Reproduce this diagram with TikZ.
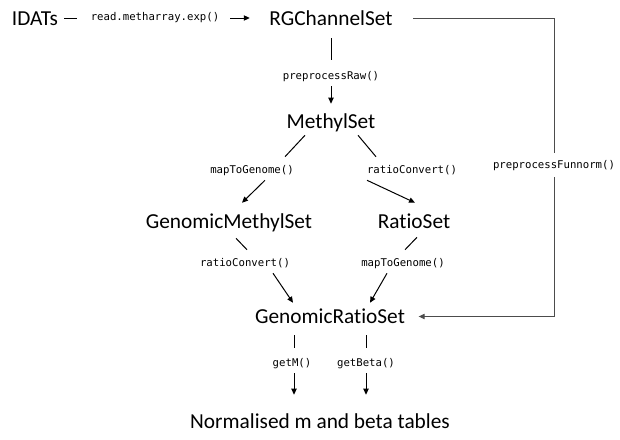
\documentclass[tikz,border=0pt]{standalone}
\usepackage{fontspec}
\setmainfont{Carlito}[Ligatures=NoCommon]
\newfontfamily\codefont{DejaVu Sans Mono}
\usepackage{tikz}
\usetikzlibrary{arrows.meta, positioning, calc}

\begin{document}
\begin{tikzpicture}[x=0.75pt, y=-0.75pt,
        cls/.style={inner sep=0pt, font=\fontsize{16}{19}\selectfont, text height=10.5pt, text depth=0pt},
        fn/.style={inner sep=0pt, font=\codefont\fontsize{8}{9}\selectfont, text height=6pt, text depth=1.5pt},
        link/.style={line width=0.75pt},
        arr/.style={link, -{Triangle[length=4.5pt, width=4pt]}},
        funnorm/.style={link, black!70}]
        \useasboundingbox (0,0) rectangle (620,439);

        % Classes
        \node[cls] (idats) at (35,18) {IDATs};
        \node[cls] (rg) at (331,18) {RGChannelSet};
        \node[cls] (ms) at (331,121.5) {MethylSet};
        \node[cls] (gms) at (229,221.5) {GenomicMethylSet};
        \node[cls] (rs) at (414,221.5) {RatioSet};
        \node[cls] (grs) at (330,316.5) {GenomicRatioSet};
        \node[cls] (norm) at (320,421) {Normalised m and beta tables};

        % Functions
        \node[fn] (rd) at (155,18) {read.metharray.exp()};
        \node[fn] (praw) at (331,76) {preprocessRaw()};
        \node[fn] (mtg1) at (252,170) {mapToGenome()};
        \node[fn] (rc1) at (412,170) {ratioConvert()};
        \node[fn] (rc2) at (245,263) {ratioConvert()};
        \node[fn] (mtg2) at (403,263) {mapToGenome()};
        \node[fn] (getm) at (292,363) {getM()};
        \node[fn] (getb) at (366,363) {getBeta()};
        \node[fn] (pfn) at (554,165) {preprocessFunnorm()};

        % Reading and raw preprocessing
        \draw[link, shorten <=4.5pt, shorten >=10.5pt] (idats) -- (rd);
        \draw[arr, shorten <=8pt, shorten >=14.6pt] (rd) -- (rg);
        \draw[link, shorten <=9.75pt, shorten >=8.25pt] (rg) -- (praw);
        \draw[arr, shorten <=3.75pt, shorten >=7.9pt] (praw) -- (ms);

        % Two routes to GenomicRatioSet
        \draw[link] ($(ms.south)+(-26,6.5)$) -- ($(mtg1.north)+(33,-8)$);
        \draw[arr] ($(mtg1.south)+(13,5)$) -- ($(gms.north)+(13,-11.5)$);
        \draw[link] ($(ms.south)+(27,6.5)$) -- ($(rc1.north)+(-36,-8)$);
        \draw[arr] ($(rc1.south)+(-45,5)$) -- ($(rs.north)+(1,-11.5)$);
        \draw[link] ($(gms.south)+(7,9.5)$) -- ($(rc2.north)+(2,-8)$);
        \draw[arr] ($(rc2.south)+(28,5)$) -- ($(grs.north)+(-37,-6.5)$);
        \draw[link] ($(rs.south)+(3,8.5)$) -- ($(mtg2.north)+(2,-8)$);
        \draw[arr] ($(mtg2.south)+(-16,5)$) -- ($(grs.north)+(40,-6.5)$);

        % Funnorm shortcut
        \draw[funnorm, shorten <=15.4pt, shorten >=5.25pt] (rg) -| (pfn);
        \draw[funnorm, -{Triangle[length=4.5pt, width=4pt]}, shorten <=5.25pt, shorten >=10.1pt] (pfn) |- (grs);

        % Tables
        \draw[link] ($(grs.south)+(-36,11.5)$) -- ($(getm.north)+(2,-10)$);
        \draw[link] ($(grs.south)+(36,11.5)$) -- ($(getb.north)+(0,-10)$);
        \draw[arr] ($(getm.south)+(2,5)$) -- ($(norm.north)+(-26,-19)$);
        \draw[arr] ($(getb.south)+(0,5)$) -- ($(norm.north)+(46,-19)$);
\end{tikzpicture}
\end{document}
